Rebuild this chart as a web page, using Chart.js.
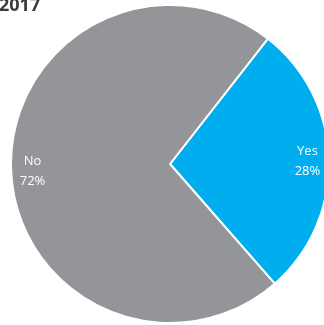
<!DOCTYPE html>
<html>
<head>
<meta charset="utf-8">
<script src="https://cdn.jsdelivr.net/npm/chart.js@4"></script>
<style>
  html, body { margin: 0; padding: 0; background: #fff; overflow: hidden; }
  body { width: 324px; height: 325px; position: relative; }
  #title {
    position: absolute; left: -1px; top: -8px;
    font: bold 18px "Open Sans", "Liberation Sans", sans-serif;
    color: #3a3a3a;
  }
  #wrap { position: absolute; left: 10px; top: 4px; width: 320px; height: 320px; }
</style>
</head>
<body>
<div id="wrap"><canvas id="pie"></canvas></div>
<div id="title">2017</div>
<script>
const labels = ["Yes", "No"];
const shares = [28, 72];
const colors = ["#00AEEF", "#939598"];

// draws "Label\nxx%" inside each slice
const sliceLabels = {
  id: "sliceLabels",
  afterDatasetsDraw(chart) {
    const ctx = chart.ctx;
    const meta = chart.getDatasetMeta(0);
    ctx.save();
    ctx.fillStyle = "#ffffff";
    ctx.font = '13px "Open Sans", "Liberation Sans", sans-serif';
    ctx.textAlign = "center";
    ctx.textBaseline = "middle";
    meta.data.forEach((arc, i) => {
      const mid = (arc.startAngle + arc.endAngle) / 2;
      const r = arc.outerRadius * 0.865;
      const x = arc.x + Math.cos(mid) * r;
      const y = arc.y + Math.sin(mid) * r + (i === 1 ? 3 : 1);
      ctx.fillText(labels[i], x, y - 10);
      ctx.fillText(shares[i] + "%", x, y + 10);
    });
    ctx.restore();
  },
};

new Chart(document.getElementById("pie"), {
  type: "pie",
  data: {
    labels: labels,
    datasets: [
      {
        data: shares,
        backgroundColor: colors,
        borderColor: "#ffffff",
        borderWidth: 2,
      },
    ],
  },
  options: {
    responsive: true,
    maintainAspectRatio: false,
    animation: false,
    rotation: 38,
    layout: { padding: 0 },
    plugins: {
      legend: { display: false },
      tooltip: { enabled: false },
    },
  },
  plugins: [sliceLabels],
});
</script>
</body>
</html>
